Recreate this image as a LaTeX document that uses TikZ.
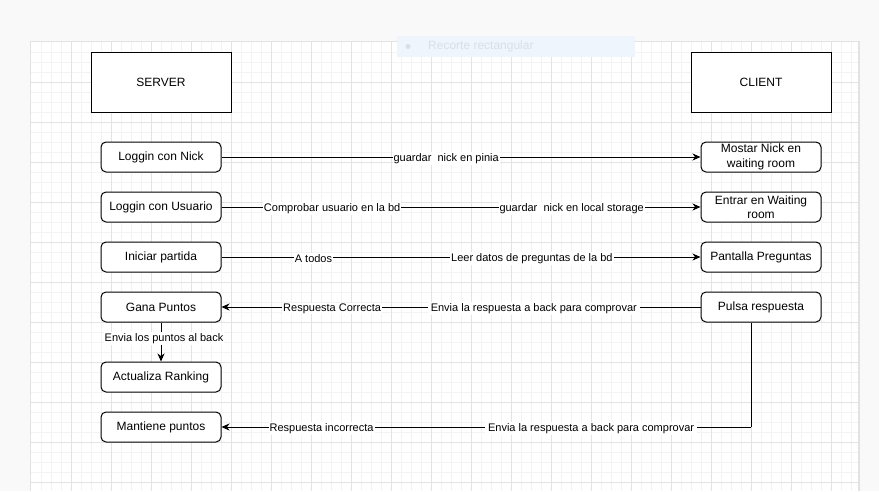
\documentclass[tikz,border=0pt]{standalone}
\usepackage{fontspec}
\setmainfont{Liberation Sans}
\usetikzlibrary{arrows.meta}
\definecolor{bgout}{HTML}{F9F9F9}
\definecolor{gridminor}{HTML}{F3F3F3}
\definecolor{gridmajor}{HTML}{E3E3E3}
\definecolor{pageedge}{HTML}{E2E2E2}
\definecolor{tipfill}{HTML}{EEF5FD}
\definecolor{tiptext}{HTML}{D8DFE7}
\begin{document}
\begin{tikzpicture}[x=1pt,y=-1pt,
  headbox/.style={draw,line width=1pt,minimum width=140pt,minimum height=60pt,fill=white,font=\fontsize{12}{14}\selectfont},
  stepbox/.style={draw,line width=1pt,rounded corners=5pt,minimum width=120pt,minimum height=30pt,align=center,fill=white,inner sep=1pt,font=\fontsize{12}{14.5}\selectfont},
  conn/.style={line width=1pt,-{Stealth[length=8pt,width=7pt,inset=2.5pt]}},
  plain/.style={line width=1pt},
  lbl/.style={fill=white,inner sep=1pt,yshift=-1.5pt,font=\fontsize{11}{13}\selectfont}]
\useasboundingbox (0,0) rectangle (879,491);
\fill[bgout] (0,0) rectangle (879,491);
\fill[pageedge] (30,41) rectangle (860,491);
\fill[white] (31,42) rectangle (858,491);
\begin{scope}
  \clip (31,42) rectangle (858,491);
  \foreach \x in {41.5,51.5,...,851.5} \draw[gridminor,line width=1pt] (\x,42) -- (\x,491);
  \foreach \y in {52.5,62.5,...,482.5} \draw[gridminor,line width=1pt] (31,\y) -- (858,\y);
  \foreach \x in {71.5,111.5,...,851.5} \draw[gridmajor,line width=1pt] (\x,42) -- (\x,491);
  \foreach \y in {82.5,122.5,...,482.5} \draw[gridmajor,line width=1pt] (31,\y) -- (858,\y);
\end{scope}
% faint tooltip
\fill[tipfill] (397,36) rectangle (635,57);
\fill[tiptext] (408,46.5) circle (2.5);
\node[anchor=west,text=tiptext,inner sep=0pt,font=\fontsize{12}{14}\selectfont] (tip) at (428,46.5) {Recorte rectangular};

% headers
\node[headbox] (server) at (161,82) {SERVER};
\node[headbox] (client) at (761,82) {CLIENT};

% server side
\node[stepbox] (nick) at (161,157) {Loggin con Nick};
\node[stepbox] (usuario) at (161,207) {Loggin con Usuario};
\node[stepbox] (iniciar) at (161,257) {Iniciar partida};
\node[stepbox] (gana) at (161,307) {Gana Puntos};
\node[stepbox] (ranking) at (161,377) {Actualiza Ranking};
\node[stepbox] (mantiene) at (161,427) {Mantiene puntos};

% client side
\node[stepbox] (mostrar) at (761,157) {Mostar Nick en\\waiting room};
\node[stepbox] (entrar) at (761,207) {Entrar en Waiting\\room};
\node[stepbox] (pantalla) at (761,257) {Pantalla Preguntas};
\node[stepbox] (pulsa) at (761,307) {Pulsa respuesta};

% connectors
\draw[conn] (nick.east) -- node[lbl,pos=0.469] {guardar\ \ nick en pinia} (mostrar.west);
\draw[conn] (usuario.east) -- node[lbl,pos=0.231] {Comprobar usuario en la bd}
  node[lbl,pos=0.731] {guardar\ \ nick en local storage} (entrar.west);
\draw[conn] (iniciar.east) -- node[lbl,pos=0.192] {A todos}
  node[lbl,pos=0.648] {Leer datos de preguntas de la bd} (pantalla.west);
\draw[conn] (pulsa.west) -- node[lbl,pos=0.348,inner xsep=3pt] {Envia la respuesta a back para comprovar}
  node[lbl,pos=0.769] {Respuesta Correcta} (gana.east);
\draw[conn] (gana.south) -- node[lbl,pos=0.37,xshift=3pt] {Envia los puntos al back} (ranking.north);
\coordinate (drop) at ([xshift=-10pt]pulsa.south);
\coordinate (corner) at (drop |- mantiene.east);
\draw[plain] (drop) -- (corner);
\draw[conn] (corner) -- node[lbl,pos=0.302,inner xsep=3pt] {Envia la respuesta a back para comprovar}
  node[lbl,pos=0.811] {Respuesta incorrecta} (mantiene.east);
\end{tikzpicture}
\end{document}
